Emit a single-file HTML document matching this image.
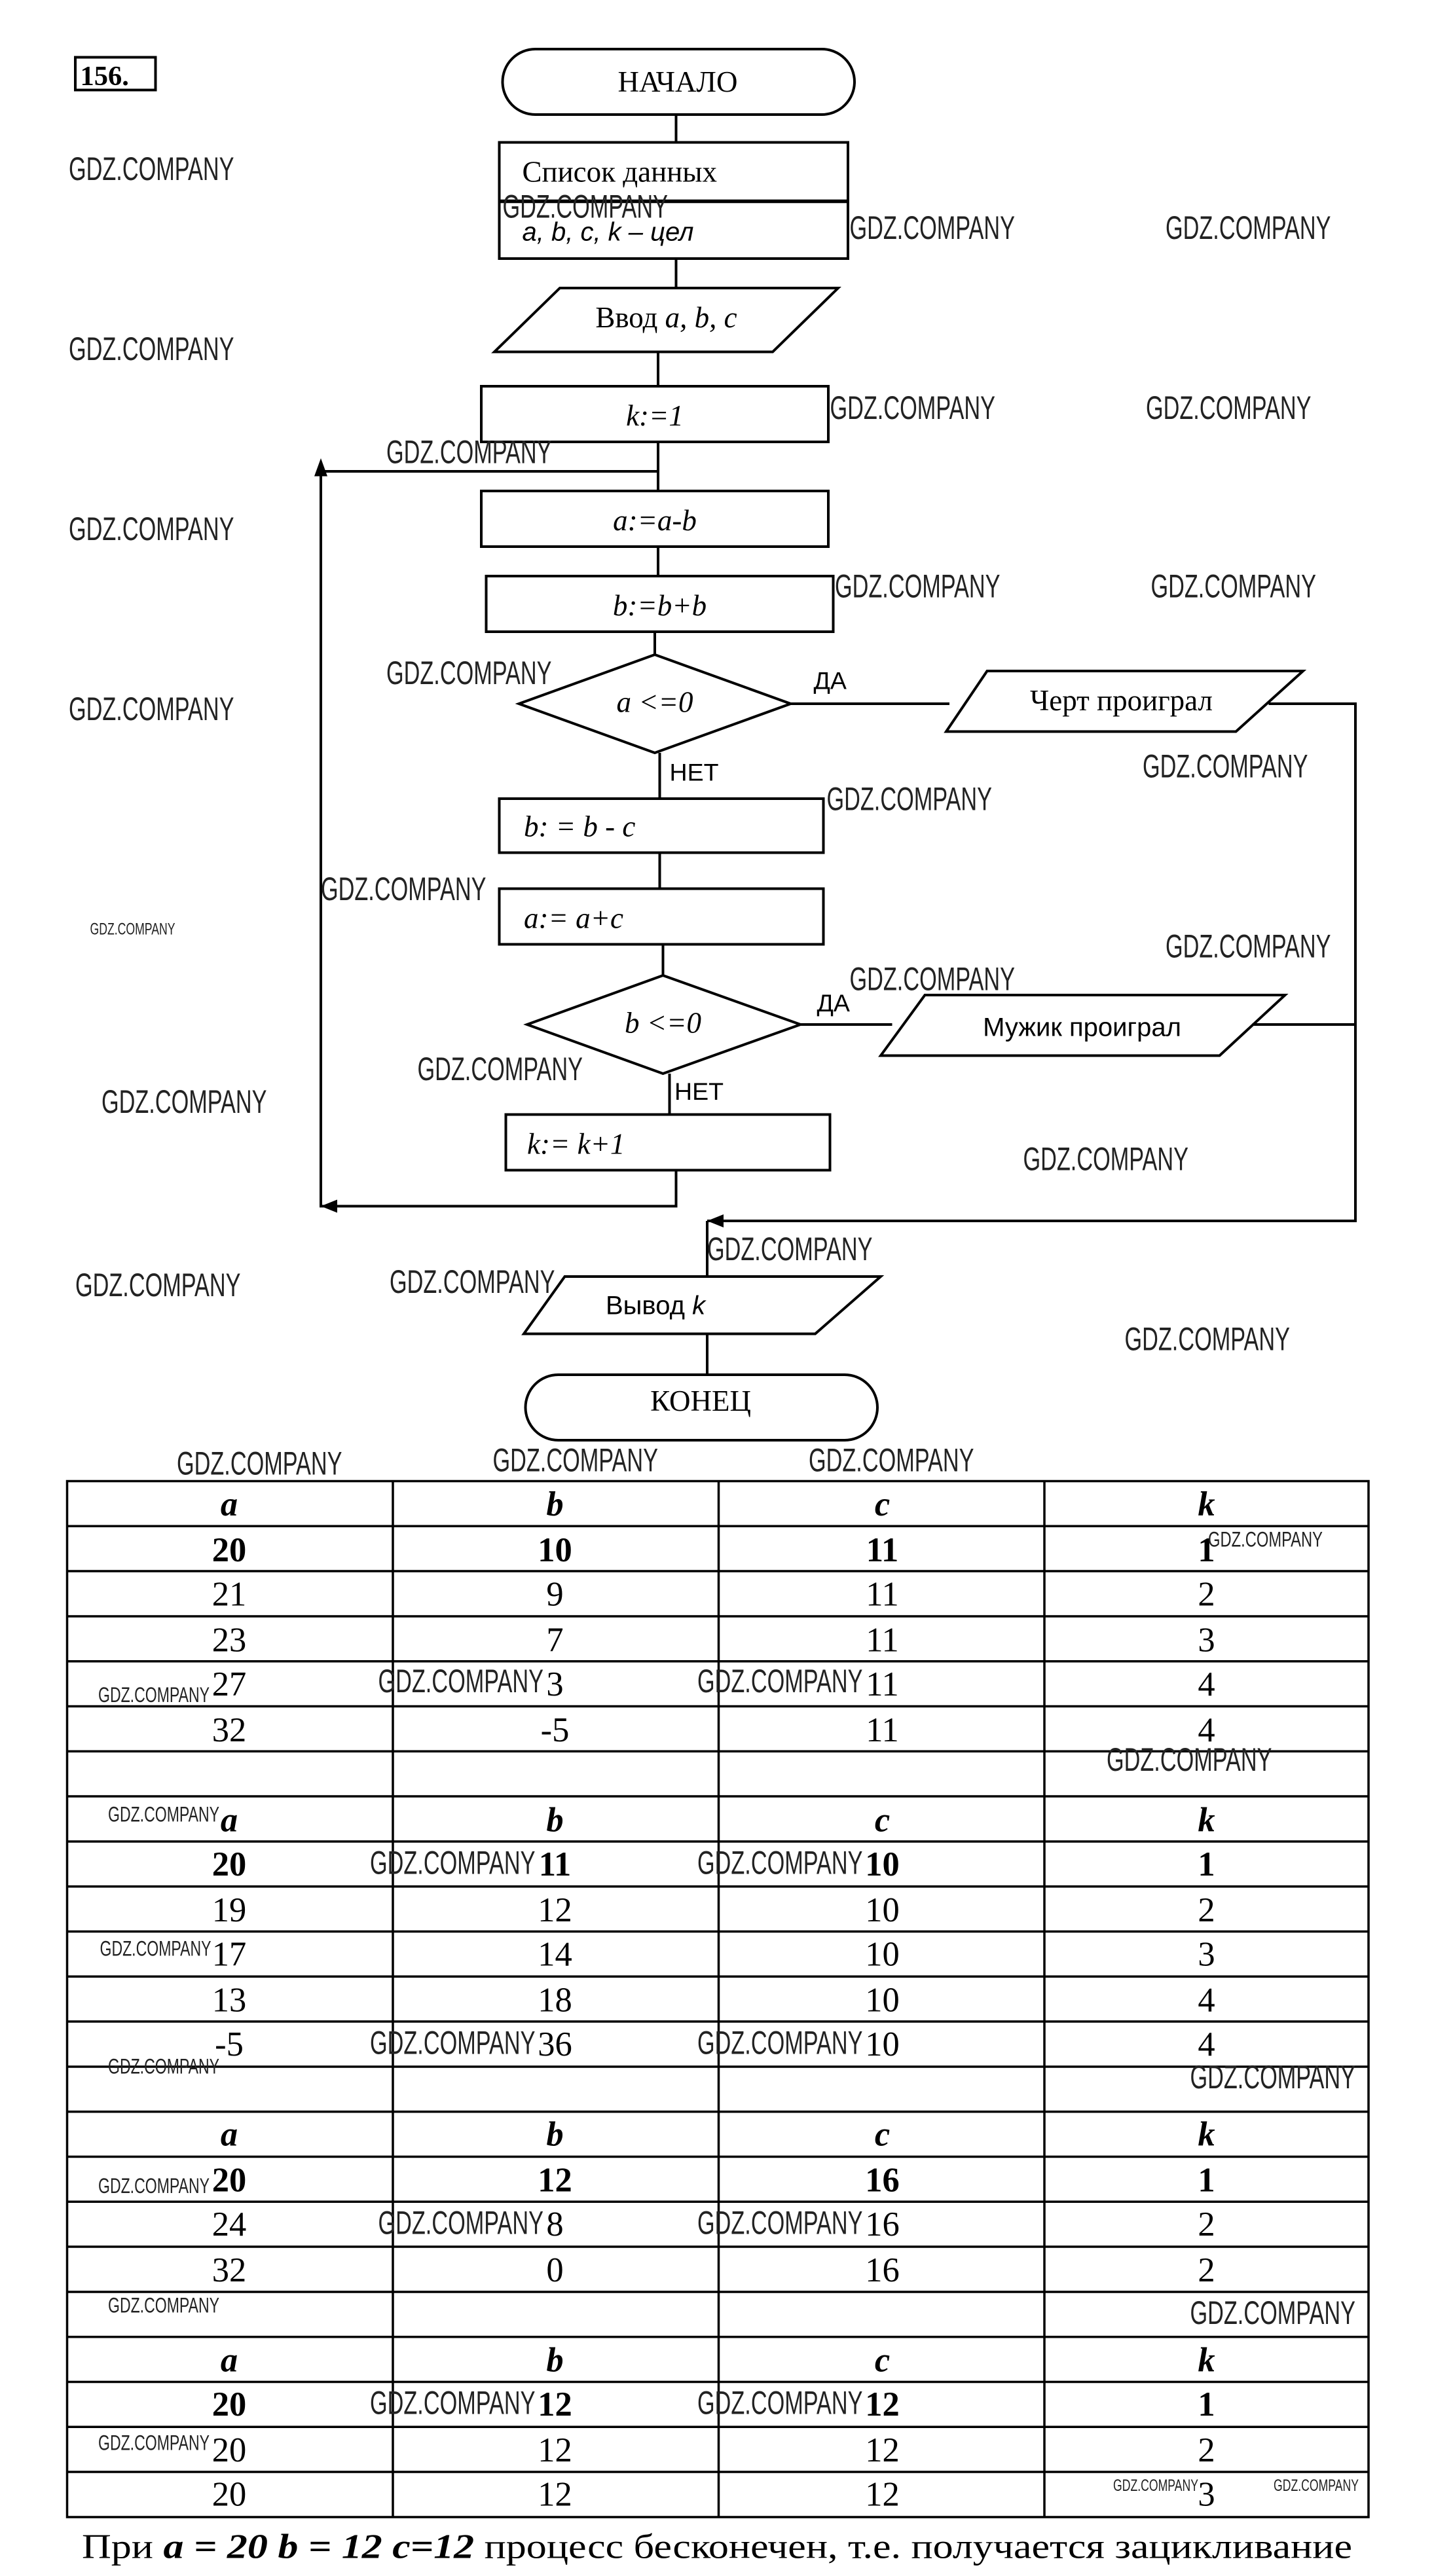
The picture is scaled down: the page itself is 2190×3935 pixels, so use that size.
<!DOCTYPE html>
<html><head><meta charset="utf-8">
<style>
html,body{margin:0;padding:0;background:#fff;}
svg{display:block;}
.s{font-family:"Liberation Serif","Noto Serif CJK SC",serif;}
.n{font-family:"Liberation Sans Narrow","Liberation Sans","Noto Sans CJK SC",sans-serif;}
.w{font-family:"Liberation Sans Narrow","Liberation Sans",sans-serif;fill:#222;}
</style></head>
<body>
<svg width="2190" height="3935" viewBox="0 0 876 1574" xmlns="http://www.w3.org/2000/svg">
<rect width="876" height="1574" fill="#fff"/>
<g fill="none" stroke="#000" stroke-width="1.6">
<rect x="46" y="35" width="49" height="20"/>
<rect x="307" y="30" width="215" height="40" rx="20"/>
<line x1="413" y1="70" x2="413" y2="87"/>
<rect x="305" y="87" width="213" height="71"/>
<line x1="305" y1="123" x2="518" y2="123" stroke-width="2.2"/>
<line x1="413" y1="158" x2="413" y2="176"/>
<polygon points="302,215 342,176 512,176 472,215"/>
<line x1="402" y1="215" x2="402" y2="236"/>
<rect x="294" y="236" width="212" height="34"/>
<line x1="402" y1="270" x2="402" y2="300"/>
<polyline points="402,288 196,288 196,737 413,737 413,715"/>
<rect x="294" y="300" width="212" height="34"/>
<line x1="402" y1="334" x2="402" y2="352"/>
<rect x="297" y="352" width="212" height="34"/>
<line x1="400" y1="386" x2="400" y2="400"/>
<polygon points="317,430 400,400 483,430 400,460"/>
<line x1="483" y1="430" x2="580" y2="430"/>
<polygon points="578,447 603,410 796,410 755,447"/>
<polyline points="775,430 828,430 828,746 432,746"/>
<line x1="403" y1="460" x2="403" y2="488"/>
<rect x="305" y="488" width="198" height="33"/>
<line x1="403" y1="521" x2="403" y2="543"/>
<rect x="305" y="543" width="198" height="34"/>
<line x1="405" y1="577" x2="405" y2="596"/>
<polygon points="322,626 405,596 489,626 405,656"/>
<line x1="489" y1="626" x2="545" y2="626"/>
<polygon points="538,645 565,608 785,608 745,645"/>
<line x1="765" y1="626" x2="828" y2="626"/>
<line x1="409" y1="656" x2="409" y2="681"/>
<rect x="309" y="681" width="198" height="34"/>
<line x1="432" y1="746" x2="432" y2="780"/>
<polygon points="320,815 345,780 538,780 498,815"/>
<line x1="432" y1="815" x2="432" y2="840"/>
<rect x="321" y="840" width="215" height="40" rx="20"/>
</g>
<g fill="#000">
<polygon points="196,280 192,291 200,291"/>
<polygon points="196,737 206,733 206,741"/>
<polygon points="432,746 442,742 442,750"/>
</g>
<g class="s" font-size="18">
<text x="49" y="52" font-weight="bold" font-size="17">156.</text>
<text x="414" y="56" text-anchor="middle">НАЧАЛО</text>
<text x="319" y="111">Список данных</text>
<text x="319" y="147" class="n" font-style="italic" font-size="16">a, b, c, k – цел</text>
<text x="407" y="200" text-anchor="middle">Ввод <tspan font-style="italic">a, b, c</tspan></text>
<text x="400" y="260" text-anchor="middle" font-style="italic">k:=1</text>
<text x="400" y="324" text-anchor="middle" font-style="italic">a:=a-b</text>
<text x="403" y="376" text-anchor="middle" font-style="italic">b:=b+b</text>
<text x="400" y="435" text-anchor="middle" font-style="italic">a &lt;=0</text>
<text x="685" y="434" text-anchor="middle">Черт проиграл</text>
<text x="320" y="511" font-style="italic">b: = b - c</text>
<text x="320" y="567" font-style="italic">a:= a+c</text>
<text x="405" y="631" text-anchor="middle" font-style="italic">b &lt;=0</text>
<text x="322" y="705" font-style="italic">k:= k+1</text>
<text x="428" y="862" text-anchor="middle">КОНЕЦ</text>
</g>
<g class="n" font-size="15">
<text x="497" y="421">ДА</text>
<text x="409" y="477">НЕТ</text>
<text x="499" y="618">ДА</text>
<text x="412" y="672">НЕТ</text>
<text x="661" y="633" text-anchor="middle" font-size="16">Мужик проиграл</text>
<text x="370" y="803" font-size="16">Вывод <tspan font-style="italic">k</tspan></text>
</g>
<!-- table -->
<g stroke="#000" stroke-width="1.4" fill="none">
<rect x="41" y="905" width="795" height="633"/>
<line x1="240" y1="905" x2="240" y2="1538"/>
<line x1="439" y1="905" x2="439" y2="1538"/>
<line x1="638" y1="905" x2="638" y2="1538"/>
<line x1="41" y1="932.5" x2="836" y2="932.5"/>
<line x1="41" y1="960" x2="836" y2="960"/>
<line x1="41" y1="987.6" x2="836" y2="987.6"/>
<line x1="41" y1="1015.1" x2="836" y2="1015.1"/>
<line x1="41" y1="1042.6" x2="836" y2="1042.6"/>
<line x1="41" y1="1070.1" x2="836" y2="1070.1"/>
<line x1="41" y1="1097.6" x2="836" y2="1097.6"/>
<line x1="41" y1="1125.2" x2="836" y2="1125.2"/>
<line x1="41" y1="1152.7" x2="836" y2="1152.7"/>
<line x1="41" y1="1180.2" x2="836" y2="1180.2"/>
<line x1="41" y1="1207.7" x2="836" y2="1207.7"/>
<line x1="41" y1="1235.2" x2="836" y2="1235.2"/>
<line x1="41" y1="1262.8" x2="836" y2="1262.8"/>
<line x1="41" y1="1290.3" x2="836" y2="1290.3"/>
<line x1="41" y1="1317.8" x2="836" y2="1317.8"/>
<line x1="41" y1="1345.3" x2="836" y2="1345.3"/>
<line x1="41" y1="1372.8" x2="836" y2="1372.8"/>
<line x1="41" y1="1400.4" x2="836" y2="1400.4"/>
<line x1="41" y1="1427.9" x2="836" y2="1427.9"/>
<line x1="41" y1="1455.4" x2="836" y2="1455.4"/>
<line x1="41" y1="1482.9" x2="836" y2="1482.9"/>
<line x1="41" y1="1510.4" x2="836" y2="1510.4"/>
</g>
<g class="s" font-size="21" text-anchor="middle">
<g font-weight="bold" font-style="italic"><text x="140" y="926">a</text><text x="339" y="926">b</text><text x="539" y="926">c</text><text x="737" y="926">k</text></g>
<g font-weight="bold"><text x="140" y="954">20</text><text x="339" y="954">10</text><text x="539" y="954">11</text><text x="737" y="954">1</text></g>
<text x="140" y="981">21</text><text x="339" y="981">9</text><text x="539" y="981">11</text><text x="737" y="981">2</text>
<text x="140" y="1009">23</text><text x="339" y="1009">7</text><text x="539" y="1009">11</text><text x="737" y="1009">3</text>
<text x="140" y="1036">27</text><text x="339" y="1036">3</text><text x="539" y="1036">11</text><text x="737" y="1036">4</text>
<text x="140" y="1064">32</text><text x="339" y="1064">-5</text><text x="539" y="1064">11</text><text x="737" y="1064">4</text>
<g font-weight="bold" font-style="italic"><text x="140" y="1119">a</text><text x="339" y="1119">b</text><text x="539" y="1119">c</text><text x="737" y="1119">k</text></g>
<g font-weight="bold"><text x="140" y="1146">20</text><text x="339" y="1146">11</text><text x="539" y="1146">10</text><text x="737" y="1146">1</text></g>
<text x="140" y="1174">19</text><text x="339" y="1174">12</text><text x="539" y="1174">10</text><text x="737" y="1174">2</text>
<text x="140" y="1201">17</text><text x="339" y="1201">14</text><text x="539" y="1201">10</text><text x="737" y="1201">3</text>
<text x="140" y="1229">13</text><text x="339" y="1229">18</text><text x="539" y="1229">10</text><text x="737" y="1229">4</text>
<text x="140" y="1256">-5</text><text x="339" y="1256">36</text><text x="539" y="1256">10</text><text x="737" y="1256">4</text>
<g font-weight="bold" font-style="italic"><text x="140" y="1311">a</text><text x="339" y="1311">b</text><text x="539" y="1311">c</text><text x="737" y="1311">k</text></g>
<g font-weight="bold"><text x="140" y="1339">20</text><text x="339" y="1339">12</text><text x="539" y="1339">16</text><text x="737" y="1339">1</text></g>
<text x="140" y="1366">24</text><text x="339" y="1366">8</text><text x="539" y="1366">16</text><text x="737" y="1366">2</text>
<text x="140" y="1394">32</text><text x="339" y="1394">0</text><text x="539" y="1394">16</text><text x="737" y="1394">2</text>
<g font-weight="bold" font-style="italic"><text x="140" y="1449">a</text><text x="339" y="1449">b</text><text x="539" y="1449">c</text><text x="737" y="1449">k</text></g>
<g font-weight="bold"><text x="140" y="1476">20</text><text x="339" y="1476">12</text><text x="539" y="1476">12</text><text x="737" y="1476">1</text></g>
<text x="140" y="1504">20</text><text x="339" y="1504">12</text><text x="539" y="1504">12</text><text x="737" y="1504">2</text>
<text x="140" y="1531">20</text><text x="339" y="1531">12</text><text x="539" y="1531">12</text><text x="737" y="1531">3</text>
</g>
<text class="s" x="50" y="1563" font-size="21" textLength="776" lengthAdjust="spacingAndGlyphs">При <tspan font-weight="bold" font-style="italic">a = 20  b = 12  c=12</tspan>  процесс бесконечен, т.е. получается зацикливание</text>
<!-- watermarks -->
<g class="w" font-size="20">
<text x="42" y="110" textLength="101" lengthAdjust="spacingAndGlyphs">GDZ.COMPANY</text>
<text x="307" y="133" textLength="101" lengthAdjust="spacingAndGlyphs">GDZ.COMPANY</text>
<text x="519" y="146" textLength="101" lengthAdjust="spacingAndGlyphs">GDZ.COMPANY</text>
<text x="712" y="146" textLength="101" lengthAdjust="spacingAndGlyphs">GDZ.COMPANY</text>
<text x="42" y="220" textLength="101" lengthAdjust="spacingAndGlyphs">GDZ.COMPANY</text>
<text x="507" y="256" textLength="101" lengthAdjust="spacingAndGlyphs">GDZ.COMPANY</text>
<text x="700" y="256" textLength="101" lengthAdjust="spacingAndGlyphs">GDZ.COMPANY</text>
<text x="236" y="283" textLength="101" lengthAdjust="spacingAndGlyphs">GDZ.COMPANY</text>
<text x="42" y="330" textLength="101" lengthAdjust="spacingAndGlyphs">GDZ.COMPANY</text>
<text x="510" y="365" textLength="101" lengthAdjust="spacingAndGlyphs">GDZ.COMPANY</text>
<text x="703" y="365" textLength="101" lengthAdjust="spacingAndGlyphs">GDZ.COMPANY</text>
<text x="236" y="418" textLength="101" lengthAdjust="spacingAndGlyphs">GDZ.COMPANY</text>
<text x="42" y="440" textLength="101" lengthAdjust="spacingAndGlyphs">GDZ.COMPANY</text>
<text x="698" y="475" textLength="101" lengthAdjust="spacingAndGlyphs">GDZ.COMPANY</text>
<text x="505" y="495" textLength="101" lengthAdjust="spacingAndGlyphs">GDZ.COMPANY</text>
<text x="196" y="550" textLength="101" lengthAdjust="spacingAndGlyphs">GDZ.COMPANY</text>
<text x="712" y="585" textLength="101" lengthAdjust="spacingAndGlyphs">GDZ.COMPANY</text>
<text x="519" y="605" textLength="101" lengthAdjust="spacingAndGlyphs">GDZ.COMPANY</text>
<text x="255" y="660" textLength="101" lengthAdjust="spacingAndGlyphs">GDZ.COMPANY</text>
<text x="62" y="680" textLength="101" lengthAdjust="spacingAndGlyphs">GDZ.COMPANY</text>
<text x="625" y="715" textLength="101" lengthAdjust="spacingAndGlyphs">GDZ.COMPANY</text>
<text x="432" y="770" textLength="101" lengthAdjust="spacingAndGlyphs">GDZ.COMPANY</text>
<text x="46" y="792" textLength="101" lengthAdjust="spacingAndGlyphs">GDZ.COMPANY</text>
<text x="238" y="790" textLength="101" lengthAdjust="spacingAndGlyphs">GDZ.COMPANY</text>
<text x="687" y="825" textLength="101" lengthAdjust="spacingAndGlyphs">GDZ.COMPANY</text>
<text x="108" y="901" textLength="101" lengthAdjust="spacingAndGlyphs">GDZ.COMPANY</text>
<text x="301" y="899" textLength="101" lengthAdjust="spacingAndGlyphs">GDZ.COMPANY</text>
<text x="494" y="899" textLength="101" lengthAdjust="spacingAndGlyphs">GDZ.COMPANY</text>
<text x="231" y="1034" textLength="101" lengthAdjust="spacingAndGlyphs">GDZ.COMPANY</text>
<text x="426" y="1034" textLength="101" lengthAdjust="spacingAndGlyphs">GDZ.COMPANY</text>
<text x="676" y="1082" textLength="101" lengthAdjust="spacingAndGlyphs">GDZ.COMPANY</text>
<text x="226" y="1145" textLength="101" lengthAdjust="spacingAndGlyphs">GDZ.COMPANY</text>
<text x="426" y="1145" textLength="101" lengthAdjust="spacingAndGlyphs">GDZ.COMPANY</text>
<text x="226" y="1255" textLength="101" lengthAdjust="spacingAndGlyphs">GDZ.COMPANY</text>
<text x="426" y="1255" textLength="101" lengthAdjust="spacingAndGlyphs">GDZ.COMPANY</text>
<text x="727" y="1276" textLength="101" lengthAdjust="spacingAndGlyphs">GDZ.COMPANY</text>
<text x="231" y="1365" textLength="101" lengthAdjust="spacingAndGlyphs">GDZ.COMPANY</text>
<text x="426" y="1365" textLength="101" lengthAdjust="spacingAndGlyphs">GDZ.COMPANY</text>
<text x="727" y="1420" textLength="101" lengthAdjust="spacingAndGlyphs">GDZ.COMPANY</text>
<text x="226" y="1475" textLength="101" lengthAdjust="spacingAndGlyphs">GDZ.COMPANY</text>
<text x="426" y="1475" textLength="101" lengthAdjust="spacingAndGlyphs">GDZ.COMPANY</text>
</g>
<g class="w" font-size="13">
<text x="738" y="945" textLength="70" lengthAdjust="spacingAndGlyphs">GDZ.COMPANY</text>
<text x="60" y="1040" textLength="68" lengthAdjust="spacingAndGlyphs">GDZ.COMPANY</text>
<text x="66" y="1113" textLength="68" lengthAdjust="spacingAndGlyphs">GDZ.COMPANY</text>
<text x="61" y="1195" textLength="68" lengthAdjust="spacingAndGlyphs">GDZ.COMPANY</text>
<text x="66" y="1267" textLength="68" lengthAdjust="spacingAndGlyphs">GDZ.COMPANY</text>
<text x="60" y="1340" textLength="68" lengthAdjust="spacingAndGlyphs">GDZ.COMPANY</text>
<text x="66" y="1413" textLength="68" lengthAdjust="spacingAndGlyphs">GDZ.COMPANY</text>
<text x="60" y="1497" textLength="68" lengthAdjust="spacingAndGlyphs">GDZ.COMPANY</text>
<text x="55" y="571" font-size="10" textLength="52" lengthAdjust="spacingAndGlyphs">GDZ.COMPANY</text>
<text x="680" y="1522" font-size="10" textLength="52" lengthAdjust="spacingAndGlyphs">GDZ.COMPANY</text>
<text x="778" y="1522" font-size="10" textLength="52" lengthAdjust="spacingAndGlyphs">GDZ.COMPANY</text>
</g>
</svg>
</body></html>
